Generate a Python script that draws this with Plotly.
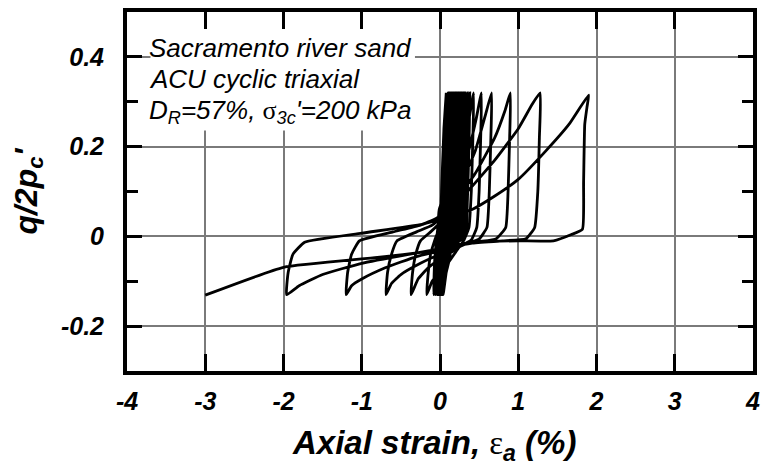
import plotly.graph_objects as go

# ---------------- data ----------------
# initial loading
first_x = [0.0, 0.02, 0.05, 0.08]
first_y = [0.0, 0.10, 0.24, 0.32]

# early (dense) cycles: peak strain and trough strain of each cycle (%)
dense_peak_x = [0.08, 0.10, 0.11, 0.12, 0.14, 0.15, 0.17, 0.18, 0.20, 0.22, 0.24, 0.26,
                0.28, 0.30, 0.32, 0.35, 0.38]
dense_trough_x = [0.04, 0.03, 0.03, 0.02, 0.02, 0.01, 0.01, 0.0, 0.0, -0.01, -0.01,
                  -0.02, -0.02, -0.03, -0.04, -0.06, -0.08]
q_peak = 0.32
q_trough = -0.13

# later cycles, branch by branch (x = axial strain %, y = q/2pc')
u1_x = [-0.08, -0.07, -0.04, 0.00, 0.20, 0.35, 0.43]
u1_y = [-0.13, -0.06, 0.00, 0.05, 0.13, 0.24, 0.32]
d1_x = [0.43, 0.42, 0.40, 0.37, 0.30, 0.20, 0.10, 0.00, -0.10, -0.17]
d1_y = [0.32, 0.22, 0.10, 0.02, -0.01, -0.035, -0.06, -0.08, -0.10, -0.13]
r1_x = [-0.17, -0.15, -0.12, -0.07, 0.00, 0.08, 0.20, 0.35, 0.46, 0.53]
r1_y = [-0.13, -0.08, -0.04, -0.01, 0.02, 0.05, 0.10, 0.18, 0.26, 0.32]
d2_x = [0.53, 0.52, 0.50, 0.47, 0.40, 0.28, 0.15, 0.00, -0.15, -0.28, -0.37]
d2_y = [0.32, 0.22, 0.10, 0.02, -0.008, -0.02, -0.035, -0.05, -0.07, -0.095, -0.13]
r2_x = [-0.37, -0.35, -0.31, -0.25, -0.12, 0.00, 0.10, 0.25, 0.45, 0.58, 0.66]
r2_y = [-0.13, -0.08, -0.04, -0.01, 0.01, 0.03, 0.06, 0.11, 0.19, 0.27, 0.32]
d3_x = [0.66, 0.65, 0.63, 0.60, 0.50, 0.35, 0.15, 0.00, -0.25, -0.50, -0.62, -0.69]
d3_y = [0.32, 0.22, 0.10, 0.02, -0.006, -0.015, -0.03, -0.04, -0.06, -0.085, -0.105, -0.13]
r3_x = [-0.69, -0.67, -0.62, -0.55, -0.30, -0.10, 0.05, 0.20, 0.45, 0.70, 0.83, 0.90]
r3_y = [-0.13, -0.08, -0.04, -0.01, 0.01, 0.025, 0.05, 0.08, 0.14, 0.22, 0.28, 0.32]
d4_x = [0.90, 0.89, 0.87, 0.84, 0.72, 0.50, 0.25, 0.05, -0.30, -0.70, -1.00, -1.13, -1.20]
d4_y = [0.32, 0.22, 0.10, 0.02, -0.005, -0.012, -0.02, -0.03, -0.045, -0.07, -0.095, -0.11, -0.13]
r4_x = [-1.20, -1.18, -1.13, -1.03, -0.60, -0.25, -0.05, 0.10, 0.35, 0.70, 1.00, 1.18, 1.28]
r4_y = [-0.13, -0.08, -0.04, -0.01, 0.01, 0.025, 0.04, 0.06, 0.10, 0.17, 0.24, 0.295, 0.32]
d5_x = [1.28, 1.27, 1.25, 1.21, 1.10, 0.80, 0.40, 0.10, -0.40, -1.00, -1.50, -1.80, -1.96]
d5_y = [0.32, 0.22, 0.10, 0.02, -0.005, -0.01, -0.015, -0.025, -0.04, -0.06, -0.085, -0.11, -0.13]
r5_x = [-1.96, -1.94, -1.88, -1.73, -1.00, -0.23, 0.00, 0.20, 0.41, 0.70, 1.00, 1.35, 1.65, 1.90]
r5_y = [-0.13, -0.08, -0.04, -0.013, 0.007, 0.027, 0.038, 0.048, 0.06, 0.09, 0.127, 0.19, 0.25, 0.315]
d6_x = [1.90, 1.88, 1.85, 1.835, 1.82, 1.68, 1.45, 1.00, 0.50, 0.25, 0.00, -0.80, -2.00, -3.00]
d6_y = [0.315, 0.29, 0.25, 0.12, 0.016, 0.004, -0.01, -0.01, -0.012, -0.018, -0.03, -0.047, -0.069, -0.131]

x_ticks = [-4, -3, -2, -1, 0, 1, 2, 3, 4]
x_ticktext = ["-4", "-3", "-2", "-1", "0", "1", "2", "3", "4"]
y_ticks = [-0.2, 0.0, 0.2, 0.4]
y_ticktext = ["-0.2", "0", "0.2", "0.4"]
y_minor = [-0.1, 0.1, 0.3]

# ---------------- assemble the path ----------------
xs = list(first_x)
ys = list(first_y)
for i, (xp, xn) in enumerate(zip(dense_peak_x, dense_trough_x)):
    # unloading from peak down to trough
    xs += [xp, xp - 0.01, xp - 0.03, xp - 0.06, xn + 0.09, xn + 0.04, xn]
    ys += [q_peak, 0.20, 0.08, 0.0, -0.04, -0.08, q_trough]
    # reloading from trough to next peak
    if i + 1 < len(dense_peak_x):
        nxt = dense_peak_x[i + 1]
        xs += [xn + 0.01, xn + 0.03, xn + 0.05, nxt - 0.03]
        ys += [-0.06, 0.0, 0.06, 0.22]

for bx, by in [(u1_x, u1_y), (d1_x, d1_y), (r1_x, r1_y), (d2_x, d2_y), (r2_x, r2_y),
               (d3_x, d3_y), (r3_x, r3_y), (d4_x, d4_y), (r4_x, r4_y), (d5_x, d5_y),
               (r5_x, r5_y), (d6_x, d6_y)]:
    xs += bx[1:]
    ys += by[1:]

fig = go.Figure()
fig.add_trace(go.Scatter(x=xs, y=ys, mode="lines",
                         line=dict(color="black", width=2.8, shape="spline", smoothing=0.4),
                         showlegend=False, hoverinfo="skip"))

FONT = "Arial, 'Liberation Sans', sans-serif"
tickfont = dict(family=FONT, size=25, color="black", weight="bold", style="italic")

fig.update_layout(
    width=768, height=465,
    margin=dict(l=127, r=13, t=8, b=94),
    paper_bgcolor="white", plot_bgcolor="white",
    showlegend=False,
    xaxis=dict(range=[-4, 4], tickvals=x_ticks, ticktext=x_ticktext,
               ticks="inside", ticklen=17, tickwidth=3, tickcolor="black",
               showline=True, linewidth=4, linecolor="black", mirror="allticks",
               showgrid=True, gridcolor="#7a7a7a", gridwidth=1.5, zeroline=False,
               tickfont=tickfont, ticklabelstandoff=5),
    yaxis=dict(range=[-0.3, 0.5], tickvals=y_ticks, ticktext=y_ticktext,
               ticks="inside", ticklen=15, tickwidth=3, tickcolor="black",
               showline=True, linewidth=4, linecolor="black", mirror="allticks",
               showgrid=True, gridcolor="#7a7a7a", gridwidth=1.5, zeroline=False,
               tickfont=tickfont, ticklabelstandoff=14,
               minor=dict(tickvals=y_minor, ticks="inside", ticklen=11, tickwidth=3,
                          tickcolor="black", showgrid=False)),
)

# white box behind the description text
fig.add_shape(type="rect", xref="x", yref="y", x0=-3.70, x1=-0.32, y0=0.236, y1=0.5,
              fillcolor="white", line=dict(width=0), layer="between")

txtfont = dict(family=FONT, size=26, color="black", style="italic")
SYM = "font-family:'Liberation Serif', 'Times New Roman', serif;font-style:normal"
lines = ["Sacramento river sand",
         "ACU cyclic triaxial",
         "D<sub>R</sub>=57%, <span style=\"" + SYM + "\">σ</span><sub>3c</sub>'=200 kPa"]
line_y = [0.419, 0.350, 0.279]
for t, yy in zip(lines, line_y):
    fig.add_annotation(x=-3.74, y=yy, xref="x", yref="y", text=t, showarrow=False,
                       xanchor="left", yanchor="middle", font=txtfont)

# axis titles
titlefont = dict(family=FONT, size=33, color="black", weight="bold", style="italic")
EPS = "font-family:'Liberation Serif', 'Times New Roman', serif;font-style:normal;font-weight:normal"
fig.add_annotation(x=0.49, y=-0.205, xref="paper", yref="paper", showarrow=False,
                   text="Axial strain, <span style=\"" + EPS + "\">ε</span><sub>a</sub> (%)",
                   xanchor="center", yanchor="middle", font=titlefont)
fig.add_annotation(x=-0.158, y=0.5, xref="paper", yref="paper", showarrow=False,
                   text="q/2p<sub>c</sub>'", textangle=-90,
                   xanchor="center", yanchor="middle",
                   font=dict(family=FONT, size=32, color="black", weight="bold", style="italic"))

fig.write_html("out.html")
